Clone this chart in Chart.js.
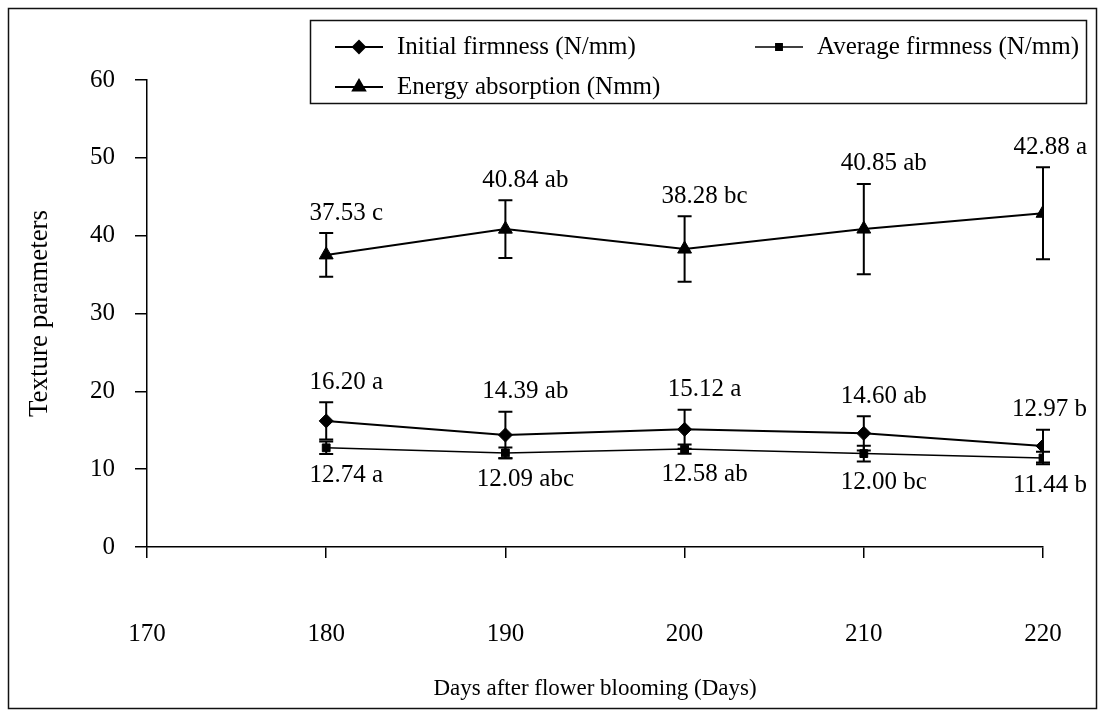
<!DOCTYPE html>
<html>
<head>
<meta charset="utf-8">
<title>Texture parameters</title>
<script src="https://cdn.jsdelivr.net/npm/chart.js@4.4.1/dist/chart.umd.min.js"></script>
<style>
  html, body { margin: 0; padding: 0; background: #fff; }
  #wrap { width: 1099px; height: 715px; }
</style>
</head>
<body>
<div id="wrap"><canvas id="texChart" width="1099" height="715"></canvas></div>
<script>
// days after flower blooming
var days = [180, 190, 200, 210, 220];

// means
var initialFirmness = [16.20, 14.39, 15.12, 14.60, 12.97];
var averageFirmness = [12.74, 12.09, 12.58, 12.00, 11.44];
var energyAbsorption = [37.53, 40.84, 38.28, 40.85, 42.88];

// standard deviations (error bars)
var initialSd = [2.4, 3.0, 2.5, 2.2, 2.1];
var averageSd = [0.8, 0.7, 0.6, 1.0, 0.8];
var energySd = [2.8, 3.7, 4.2, 5.8, 5.9];

// significance letters
var initialSig = ['a', 'ab', 'a', 'ab', 'b'];
var averageSig = ['a', 'abc', 'ab', 'bc', 'b'];
var energySig = ['c', 'ab', 'bc', 'ab', 'a'];

var xTicks = [170, 180, 190, 200, 210, 220];
var yTicks = [0, 10, 20, 30, 40, 50, 60];

var FONT = "'Liberation Serif', 'Times New Roman', serif";

function pts(vals) {
  return days.map(function (d, i) { return { x: d, y: vals[i] }; });
}

var datasets = [{
  label: 'Initial firmness (N/mm)',
  data: pts(initialFirmness),
  sd: initialSd, sig: initialSig, labelSide: 'above',
  pointStyle: 'rectRot', pointRadius: 7, borderWidth: 2
}, {
  label: 'Average firmness (N/mm)',
  data: pts(averageFirmness),
  sd: averageSd, sig: averageSig, labelSide: 'below',
  pointStyle: 'rect', pointRadius: 5.5, borderWidth: 1.5
}, {
  label: 'Energy absorption (Nmm)',
  data: pts(energyAbsorption),
  sd: energySd, sig: energySig, labelSide: 'above',
  pointStyle: 'triangle', pointRadius: 8, borderWidth: 2
}];
datasets.forEach(function (ds) {
  ds.borderColor = '#000';
  ds.backgroundColor = '#000';
  ds.pointBackgroundColor = '#000';
  ds.pointBorderColor = '#000';
  ds.pointBorderWidth = 1;
  ds.tension = 0;
  ds.fill = false;
});

// frame round the whole figure
var framePlugin = {
  id: 'frame',
  beforeDraw: function (chart) {
    var ctx = chart.ctx;
    ctx.save();
    ctx.fillStyle = '#fff';
    ctx.fillRect(0, 0, chart.width, chart.height);
    ctx.strokeStyle = '#111';
    ctx.lineWidth = 1.5;
    ctx.strokeRect(8.5, 8.5, 1088, 700);
    ctx.restore();
  }
};

// vertical error bars with caps
var errorBarPlugin = {
  id: 'errorBars',
  beforeDatasetsDraw: function (chart) {
    var ctx = chart.ctx, xs = chart.scales.x, ys = chart.scales.y;
    ctx.save();
    ctx.strokeStyle = '#000';
    ctx.lineWidth = 2;
    chart.data.datasets.forEach(function (ds) {
      ds.data.forEach(function (p, i) {
        var x = xs.getPixelForValue(p.x);
        var top = ys.getPixelForValue(p.y + ds.sd[i]);
        var bot = ys.getPixelForValue(p.y - ds.sd[i]);
        ctx.beginPath();
        ctx.moveTo(x, top); ctx.lineTo(x, bot);
        ctx.moveTo(x - 7, top); ctx.lineTo(x + 7, top);
        ctx.moveTo(x - 7, bot); ctx.lineTo(x + 7, bot);
        ctx.stroke();
      });
    });
    ctx.restore();
  }
};

// mean value + letter next to each error bar
var valueLabelPlugin = {
  id: 'valueLabels',
  afterDatasetsDraw: function (chart) {
    var ctx = chart.ctx, xs = chart.scales.x, ys = chart.scales.y;
    ctx.save();
    ctx.font = '25px ' + FONT;
    ctx.fillStyle = '#000';
    ctx.textAlign = 'center';
    ctx.textBaseline = 'middle';
    chart.data.datasets.forEach(function (ds) {
      ds.data.forEach(function (p, i) {
        var txt = p.y.toFixed(2) + ' ' + ds.sig[i];
        var w = ctx.measureText(txt).width;
        var x = xs.getPixelForValue(p.x) + 20;
        x = Math.min(x, 1087 - w / 2);
        var y;
        if (ds.labelSide === 'above') {
          y = ys.getPixelForValue(p.y + ds.sd[i]) - 20;
        } else {
          y = ys.getPixelForValue(p.y - ds.sd[i]) + 21;
        }
        ctx.fillText(txt, x, y);
      });
    });
    ctx.restore();
  }
};

// boxed legend, two columns
var legendBoxPlugin = {
  id: 'legendBox',
  afterDraw: function (chart) {
    var ctx = chart.ctx;
    var slots = [{ x: 335, y: 47 }, { x: 755, y: 47 }, { x: 335, y: 87 }];
    ctx.save();
    ctx.strokeStyle = '#111';
    ctx.lineWidth = 1.5;
    ctx.strokeRect(310.5, 20.5, 776, 83);
    ctx.font = '25px ' + FONT;
    ctx.fillStyle = '#000';
    ctx.textBaseline = 'middle';
    ctx.textAlign = 'left';
    chart.data.datasets.forEach(function (ds, i) {
      var s = slots[i];
      ctx.strokeStyle = '#000';
      ctx.lineWidth = ds.borderWidth;
      ctx.beginPath();
      ctx.moveTo(s.x, s.y); ctx.lineTo(s.x + 48, s.y);
      ctx.stroke();
      ctx.fillStyle = '#000';
      Chart.helpers.drawPoint(ctx, {
        pointStyle: ds.pointStyle, radius: ds.pointRadius - 1, rotation: 0, borderWidth: 1
      }, s.x + 24, s.y);
      ctx.fillText(ds.label, s.x + 62, s.y);
    });
    ctx.restore();
  }
};

new Chart(document.getElementById('texChart'), {
  type: 'line',
  data: { datasets: datasets },
  plugins: [framePlugin, errorBarPlugin, valueLabelPlugin, legendBoxPlugin],
  options: {
    responsive: false,
    animation: false,
    layout: { padding: { left: 20, top: 80, right: 56, bottom: 0 } },
    plugins: {
      legend: { display: false },
      tooltip: { enabled: false }
    },
    scales: {
      x: {
        type: 'linear',
        min: 170, max: 220,
        afterBuildTicks: function (s) { s.ticks = xTicks.map(function (v) { return { value: v }; }); },
        afterFit: function (s) {
          s.height = 168;
          // the big label gap below the axis shouldn't eat into the sides
          s.paddingLeft = 0;
          s.paddingRight = 0;
        },
        grid: { drawOnChartArea: false, drawTicks: true, tickLength: 11, color: '#000', lineWidth: 1.5 },
        border: { display: true, color: '#000', width: 1.5 },
        ticks: { color: '#000', font: { family: FONT, size: 25 }, padding: 61, maxRotation: 0 },
        title: {
          display: true, text: 'Days after flower blooming (Days)',
          color: '#000', font: { family: FONT, size: 23 }, padding: { top: 0, bottom: 12 }
        }
      },
      y: {
        min: 0, max: 60,
        afterBuildTicks: function (s) { s.ticks = yTicks.map(function (v) { return { value: v }; }); },
        afterFit: function (s) { s.width = 127; },
        grid: { drawOnChartArea: false, drawTicks: true, tickLength: 12, color: '#000', lineWidth: 1.5 },
        border: { display: true, color: '#000', width: 1.5 },
        ticks: { color: '#000', font: { family: FONT, size: 25 }, padding: 20 },
        title: {
          display: true, text: 'Texture parameters',
          color: '#000', font: { family: FONT, size: 27 }, padding: { top: 4, bottom: 0 }
        }
      }
    }
  }
});
</script>
</body>
</html>
